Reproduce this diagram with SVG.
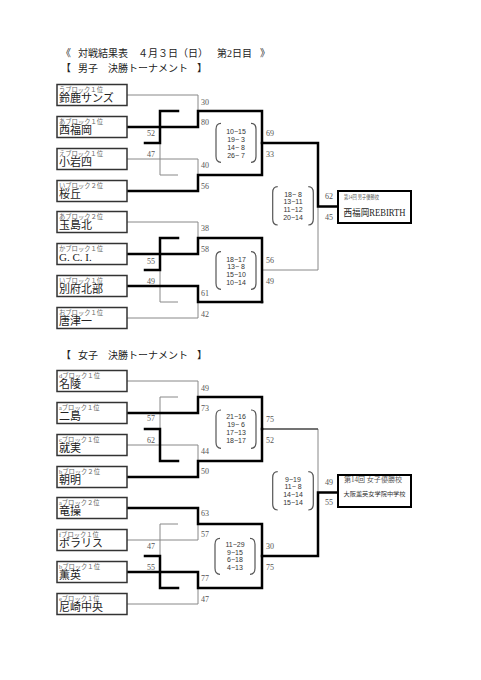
<svg xmlns="http://www.w3.org/2000/svg" width="481" height="680" viewBox="0 0 481 680">
<style>
text{font-family:"Liberation Serif","Noto Sans CJK JP",serif}
.t{font-size:10px;fill:#222}
.box{fill:#fff;stroke:#333;stroke-width:1.5}
.lbl{font-size:6.3px;fill:#666}
.nm{font-size:11px;fill:#222}
.sc{font-size:8px;fill:#555}
.gs{font-size:7px;fill:#333;text-anchor:middle;font-family:"Liberation Sans","Noto Sans CJK JP",sans-serif}
.br{fill:none;stroke:#555;stroke-width:1.2}
.thk{fill:none;stroke:#000;stroke-width:2.5;stroke-linecap:square}
.thn{fill:none;stroke:#888;stroke-width:1}
.med{fill:none;stroke:#444;stroke-width:1.6}
.ch{fill:#fff;stroke:#000;stroke-width:2}
</style>
<rect width="481" height="680" fill="#fff"/>
<g id="titles">
<text class="t" y="57"><tspan x="61">《</tspan><tspan x="78">対戦結果表</tspan><tspan x="138">４月３日（日）</tspan><tspan x="217">第2日目</tspan><tspan x="260">》</tspan></text>
<text class="t" y="72"><tspan x="61">【</tspan><tspan x="78">男子</tspan><tspan x="108">決勝トーナメント</tspan><tspan x="197">】</tspan></text>
<text class="t" y="359"><tspan x="61">【</tspan><tspan x="78">女子</tspan><tspan x="108">決勝トーナメント</tspan><tspan x="197">】</tspan></text>
</g>
<g id="connectors">
<path class="thn" d="M127,95 H198 V111 M127,159 H198 V175 M127,222 H198 V238 M127,318 H198 V302 M262,270 H318 V206.5"/>
<path class="thn" d="M160,143 V175 H178 M160,270 V302 H178"/>
<path class="thk" d="M127,127 H198 V111 H262 V143 H318 V206.5 H338"/>
<path class="thk" d="M127,191 H198 V175 H262 V143"/>
<path class="thk" d="M127,254 H198 V238 H262 V302"/>
<path class="thk" d="M127,286 H198 V302 H262"/>
<path class="thk" d="M178,111 H160 V143 M145,143 H160 M178,238 H160 V270 M145,270 H160"/>
<path class="thn" d="M127,381 H198 V397 M127,445 H198 V461 M127,540 H198 V524 M127,604 H198 V588 M318,429 V492.5"/>
<path class="med" d="M262,429 H318"/>
<path class="thn" d="M178,397 H160 V429 M178,524 H160 V556"/>
<path class="thk" d="M127,413 H198 V397 H262 V429"/>
<path class="thk" d="M127,477 H198 V461 H262 V429"/>
<path class="thk" d="M127,508 H198 V524 H262 V556"/>
<path class="thk" d="M127,572 H198 V588 H262 V556 H318 V492.5 H338"/>
<path class="thk" d="M160,429 V461 H178 M145,429 H160 M160,556 V588 H178 M145,556 H160"/>
</g>
<g id="scores">
<text class="sc" x="201" y="104.5">30</text><text class="sc" x="201" y="125">80</text>
<text class="sc" x="201" y="168">40</text><text class="sc" x="201" y="189">56</text>
<text class="sc" x="201" y="231">38</text><text class="sc" x="201" y="252">58</text>
<text class="sc" x="201" y="295.5">61</text><text class="sc" x="201" y="317">42</text>
<text class="sc" x="266" y="135.5">69</text><text class="sc" x="266" y="157">33</text>
<text class="sc" x="266" y="263">56</text><text class="sc" x="266" y="283.5">49</text>
<text class="sc" x="325" y="199">62</text><text class="sc" x="325" y="220">45</text>
<text class="sc" x="147" y="136">52</text><text class="sc" x="147" y="157">47</text>
<text class="sc" x="147" y="263.5">55</text><text class="sc" x="147" y="283.5">49</text>
<text class="sc" x="201" y="390.5">49</text><text class="sc" x="201" y="411">73</text>
<text class="sc" x="201" y="454">44</text><text class="sc" x="201" y="474">50</text>
<text class="sc" x="201" y="516">63</text><text class="sc" x="201" y="537">57</text>
<text class="sc" x="201" y="580.5">77</text><text class="sc" x="201" y="602">47</text>
<text class="sc" x="266" y="422">75</text><text class="sc" x="266" y="443">52</text>
<text class="sc" x="266" y="548.5">30</text><text class="sc" x="266" y="569.5">75</text>
<text class="sc" x="325" y="484.5">49</text><text class="sc" x="325" y="505">55</text>
<text class="sc" x="147" y="421">57</text><text class="sc" x="147" y="443">62</text>
<text class="sc" x="147" y="548.5">47</text><text class="sc" x="147" y="569.5">55</text>
</g>
<g id="m-games1">
<path class="br" d="M221,123.3 Q216,123.3 216,129.3 V156.3 Q216,162.3 221,162.3 M251,123.3 Q256,123.3 256,129.3 V156.3 Q256,162.3 251,162.3"/>
<text class="gs" x="236" y="134.2">10−15</text><text class="gs" x="236" y="141.8">19− 3</text><text class="gs" x="236" y="149.5">14− 8</text><text class="gs" x="236" y="157.5">26− 7</text>
</g>
<g id="m-games2">
<path class="br" d="M221,251.7 Q216,251.7 216,257.7 V283.3 Q216,289.3 221,289.3 M251,251.7 Q256,251.7 256,257.7 V283.3 Q256,289.3 251,289.3"/>
<text class="gs" x="236" y="261.5">18−17</text><text class="gs" x="236" y="269.2">13− 8</text><text class="gs" x="236" y="276.8">15−10</text><text class="gs" x="236" y="284.5">10−14</text>
</g>
<g id="m-final">
<path class="br" d="M277.7,186.7 Q272.7,186.7 272.7,192.7 V219 Q272.7,225 277.7,225 M308.3,186.7 Q313.3,186.7 313.3,192.7 V219 Q313.3,225 308.3,225"/>
<text class="gs" x="293" y="196.5">18− 8</text><text class="gs" x="293" y="204.2">13−11</text><text class="gs" x="293" y="211.8">11−12</text><text class="gs" x="293" y="219.5">20−14</text>
</g>
<g id="w-games1">
<path class="br" d="M221,410 Q216,410 216,416 V442.3 Q216,448.3 221,448.3 M251,410 Q256,410 256,416 V442.3 Q256,448.3 251,448.3"/>
<text class="gs" x="236" y="419.2">21−16</text><text class="gs" x="236" y="426.8">19− 6</text><text class="gs" x="236" y="434.5">17−13</text><text class="gs" x="236" y="442.5">18−17</text>
</g>
<g id="w-games2">
<path class="br" d="M220,538.3 Q215,538.3 215,544.3 V568.3 Q215,574.3 220,574.3 M250,538.3 Q255,538.3 255,544.3 V568.3 Q255,574.3 250,574.3"/>
<text class="gs" x="235" y="546.8">11−29</text><text class="gs" x="235" y="554.5">9−15</text><text class="gs" x="235" y="562.2">6−18</text><text class="gs" x="235" y="569.8">4−13</text>
</g>
<g id="w-final">
<path class="br" d="M277.7,471.7 Q272.7,471.7 272.7,477.7 V504 Q272.7,510 277.7,510 M308.3,471.7 Q313.3,471.7 313.3,477.7 V504 Q313.3,510 308.3,510"/>
<text class="gs" x="293" y="481.5">9−19</text><text class="gs" x="293" y="489.2">11− 8</text><text class="gs" x="293" y="496.8">14−14</text><text class="gs" x="293" y="504.5">15−14</text>
</g>
<g id="m1"><rect class="box" x="57" y="84.5" width="70" height="21"/><text class="lbl" x="59" y="91.5">うブロック１位</text><text class="nm" x="59" y="102">鈴鹿サンズ</text></g>
<g id="m2"><rect class="box" x="57" y="116.5" width="70" height="21"/><text class="lbl" x="59" y="123.5">あブロック１位</text><text class="nm" x="59" y="134">西福岡</text></g>
<g id="m3"><rect class="box" x="57" y="148.5" width="70" height="21"/><text class="lbl" x="59" y="155.5">えブロック１位</text><text class="nm" x="59" y="166">小岩四</text></g>
<g id="m4"><rect class="box" x="57" y="180.5" width="70" height="21"/><text class="lbl" x="59" y="187.5">いブロック２位</text><text class="nm" x="59" y="198">桜丘</text></g>
<g id="m5"><rect class="box" x="57" y="211.5" width="70" height="21"/><text class="lbl" x="59" y="218.5">あブロック２位</text><text class="nm" x="59" y="229">玉島北</text></g>
<g id="m6"><rect class="box" x="57" y="243.5" width="70" height="21"/><text class="lbl" x="59" y="250.5">かブロック１位</text><text class="nm" x="59" y="261">G. C. I.</text></g>
<g id="m7"><rect class="box" x="57" y="275.5" width="70" height="21"/><text class="lbl" x="59" y="282.5">いブロック１位</text><text class="nm" x="59" y="293">別府北部</text></g>
<g id="m8"><rect class="box" x="57" y="307.5" width="70" height="21"/><text class="lbl" x="59" y="314.5">おブロック１位</text><text class="nm" x="59" y="325">唐津一</text></g>
<g id="m-champ"><rect class="ch" x="338" y="191" width="73" height="32"/><text x="344" y="198.5" font-size="5.5" fill="#555" textLength="35" lengthAdjust="spacingAndGlyphs">第14回 男子優勝校</text><text x="343.5" y="215.5" font-size="9.5" fill="#222" textLength="62" lengthAdjust="spacingAndGlyphs">西福岡REBIRTH</text></g>
<g id="w1"><rect class="box" x="57" y="370.5" width="70" height="21"/><text class="lbl" x="59" y="377.5">dブロック１位</text><text class="nm" x="59" y="388">名陵</text></g>
<g id="w2"><rect class="box" x="57" y="402.5" width="70" height="21"/><text class="lbl" x="59" y="409.5">aブロック１位</text><text class="nm" x="59" y="420">二島</text></g>
<g id="w3"><rect class="box" x="57" y="434.5" width="70" height="21"/><text class="lbl" x="59" y="441.5">cブロック１位</text><text class="nm" x="59" y="452">就実</text></g>
<g id="w4"><rect class="box" x="57" y="466.5" width="70" height="21"/><text class="lbl" x="59" y="473.5">bブロック２位</text><text class="nm" x="59" y="484">朝明</text></g>
<g id="w5"><rect class="box" x="57" y="497.5" width="70" height="21"/><text class="lbl" x="59" y="504.5">aブロック２位</text><text class="nm" x="59" y="515">竜操</text></g>
<g id="w6"><rect class="box" x="57" y="529.5" width="70" height="21"/><text class="lbl" x="59" y="536.5">fブロック１位</text><text class="nm" x="59" y="547">ポラリス</text></g>
<g id="w7"><rect class="box" x="57" y="561.5" width="70" height="21"/><text class="lbl" x="59" y="568.5">bブロック１位</text><text class="nm" x="59" y="579">薫英</text></g>
<g id="w8"><rect class="box" x="57" y="593.5" width="70" height="21"/><text class="lbl" x="59" y="600.5">eブロック１位</text><text class="nm" x="59" y="611">尼崎中央</text></g>
<g id="w-champ"><rect class="ch" x="338" y="475" width="73" height="32"/><text x="344" y="482" font-size="7.2" fill="#555" textLength="58" lengthAdjust="spacingAndGlyphs">第14回 女子優勝校</text><text x="343.5" y="496.3" font-size="6.2" fill="#333" textLength="62" lengthAdjust="spacingAndGlyphs">大阪薫英女学院中学校</text></g>
</svg>
